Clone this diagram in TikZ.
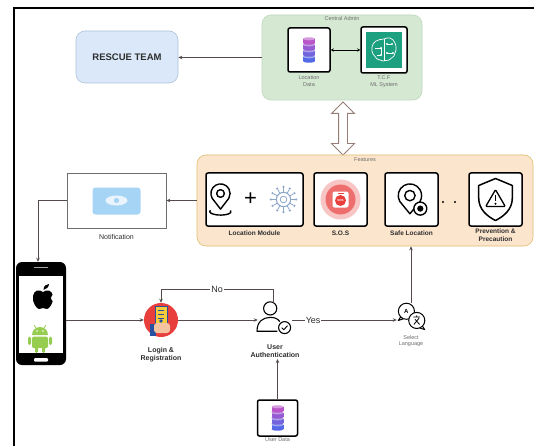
\documentclass[tikz,border=0pt]{standalone}
\usepackage{fontspec}
\setmainfont{Liberation Sans}
\usetikzlibrary{shapes.geometric, shapes.arrows, arrows.meta, positioning, calc}
\definecolor{cText}{RGB}{45,45,45}
\definecolor{cGrey}{RGB}{110,110,110}
\definecolor{cLine}{RGB}{85,75,75}
\definecolor{cRescueFill}{RGB}{218,232,250}
\definecolor{cRescueDraw}{RGB}{175,195,215}
\definecolor{cAdminFill}{RGB}{212,232,210}
\definecolor{cAdminDraw}{RGB}{190,215,188}
\definecolor{cFeatFill}{RGB}{252,229,205}
\definecolor{cFeatDraw}{RGB}{222,190,110}
\definecolor{cTeal}{RGB}{28,160,128}
\definecolor{cSos}{RGB}{232,62,60}
\definecolor{cDbA}{RGB}{185,85,200}
\definecolor{cDbB}{RGB}{150,90,210}
\definecolor{cDbC}{RGB}{115,100,222}
\definecolor{cDbD}{RGB}{85,105,230}
\definecolor{cGear}{RGB}{140,165,200}
\definecolor{cNote}{RGB}{165,212,245}
\definecolor{cDroid}{RGB}{150,205,80}
\definecolor{cDoc}{RGB}{245,205,60}
\definecolor{cDocLine}{RGB}{40,80,160}
\definecolor{cSkin}{RGB}{245,195,160}
\definecolor{cArrow}{RGB}{150,125,120}
\tikzset{
	grp/.style      ={rectangle, rounded corners=9pt, line width=0.6pt, inner sep=0pt},
	iconbox/.style  ={rectangle, rounded corners=2pt, draw=black, line width=1.5pt, fill=white, inner sep=0pt},
	hub/.style      ={rectangle, inner sep=0pt, minimum size=30pt},
	lbl/.style      ={font=\fontsize{6.5}{7.5}\selectfont\bfseries, align=center, text=cText, inner sep=1pt},
	tiny/.style     ={font=\fontsize{5.5}{6.5}\selectfont, align=center, text=cGrey, inner sep=1pt},
	conn/.style     ={-{Stealth[length=4pt, width=3.5pt]}, draw=cLine, line width=0.8pt},
	dconn/.style    ={{Stealth[length=3pt, width=3pt]}-{Stealth[length=3pt, width=3pt]}, draw=black, line width=0.7pt},
	answer/.style   ={font=\fontsize{9}{10}\selectfont, text=cText, fill=white, inner sep=1pt},
	% icons, drawn with y pointing up
	dbstack/.pic={
		\begin{scope}[y=1pt]
			\foreach \c/\k in {cDbD/-9, cDbC/-3, cDbB/3, cDbA/9}{
				\fill[\c] (-6,\k-2.2) rectangle (6,\k+2.2);
				\fill[\c] (0,\k-2.2) ellipse[x radius=6, y radius=1.5];
				\fill[\c!60!white] (0,\k+2.2) ellipse[x radius=6, y radius=1.5];
			}
		\end{scope}
	},
	brainchip/.pic={
		\begin{scope}[y=1pt]
			\fill[cTeal] (-18,-18) rectangle (18,18);
			\draw[white, line width=0.7pt] plot[smooth cycle, tension=0.8] coordinates {(0,11) (6,12) (11,7) (12,0) (10,-6) (5,-10) (-1,-11) (-7,-9) (-11,-4) (-12,3) (-8,9)};
			\draw[white, line width=0.6pt] (0,11) -- (0,-11) (-9,2) -- (-3,2) -- (-3,-5) (3,6) -- (8,6) (3,-3) -- (9,-3) (-7,-5) -- (-3,-5);
			\foreach \p in {(-3,2),(3,6),(3,-3),(-3,-5),(8,6),(9,-3)} \fill[white] \p circle (1.1);
		\end{scope}
	},
	pinicon/.pic={
		\begin{scope}[y=1pt, line width=1.4pt, line join=round]
			\draw (0,-8) -- (-6.93,1) arc[start angle=210, end angle=-30, radius=8] -- cycle;
			\draw (0,5) circle (3.2);
			\draw ([shift={(160:9 and 3)}]0,-10) arc[start angle=160, end angle=380, x radius=9, y radius=3];
		\end{scope}
	},
	gearicon/.pic={
		\begin{scope}[y=1pt]
			\draw[cGear, line width=1pt] (0,0) circle (6.5);
			\draw[cGear, line width=0.8pt] (0,0) circle (3);
			\foreach \a in {0,30,...,330}{
				\draw[cGear, line width=0.8pt] (\a:6.5) -- (\a:10.5);
				\fill[cGear] (\a:11.5) circle (1.1);
			}
		\end{scope}
	},
	sosicon/.pic={
		\begin{scope}[y=1pt]
			\fill[cSos!30] (0,0) circle (20);
			\fill[cSos!75] (0,0) circle (15);
			\fill[white, rounded corners=2pt] (-8,-8) rectangle (8,8);
			\fill[cSos] (0,-1) circle (5.5);
			\fill[cSos] (-3,5.5) rectangle (3,6.5);
			\node[font=\fontsize{3}{3}\selectfont\bfseries, text=white, inner sep=0pt] at (0,-1) {SOS};
		\end{scope}
	},
	safepin/.pic={
		\begin{scope}[y=1pt, line width=1.4pt, line join=round]
			\draw (-2,-11) -- (-9.79,-1.5) arc[start angle=210, end angle=-30, radius=9] -- cycle;
			\draw (-2,3) circle (4);
			\filldraw[fill=white] (6,-7) circle (5);
			\fill (6,-7) circle (2.4);
		\end{scope}
	},
	shieldicon/.pic={
		\begin{scope}[y=1pt, line join=round]
			\draw[line width=1.5pt] (0,15) -- (12,10) -- (12,1) .. controls (12,-7) and (6,-12) .. (0,-15) .. controls (-6,-12) and (-12,-7) .. (-12,1) -- (-12,10) -- cycle;
			\draw[line width=1.3pt, rounded corners=1pt] (0,7) -- (7,-5) -- (-7,-5) -- cycle;
			\draw[line width=1.2pt] (0,3) -- (0,-1);
			\fill (0,-3) circle (0.8);
		\end{scope}
	},
	usericon/.pic={
		\begin{scope}[y=1pt, line width=1.1pt, line join=round]
			\draw (-4,8) circle (5.5);
			\draw (4,-3) .. controls (2,-0.5) and (0,0.5) .. (-4,0.5) .. controls (-10,0.5) and (-15,-3) .. (-15,-11) -- (2,-11);
			\filldraw[fill=white] (8,-8) circle (5);
			\draw[line width=0.9pt] (5.6,-8) -- (7.3,-9.8) -- (10.4,-6.4);
		\end{scope}
	},
	langicon/.pic={
		\begin{scope}[y=1pt, line width=1pt, line join=round]
			\draw (-4,5) circle (7) (-9,0) -- (-11,-3) -- (-6.5,-1.5);
			\node[font=\fontsize{6}{6}\selectfont\bfseries, inner sep=0pt] at (-4,5) {A};
			\filldraw[fill=white] (5,-3) circle (7);
			\draw (10,-8) -- (12,-11) -- (7.5,-9.5);
			\draw[line width=0.8pt] (2,0) -- (8,0) (5,1.5) -- (5,0) (2.5,-6.5) -- (7,-1) (7.5,-6.5) -- (3.5,-2);
		\end{scope}
	},
	loginicon/.pic={
		\begin{scope}[y=1pt]
			\fill[cSos] (0,0) circle (17);
			\filldraw[fill=cDoc, draw=cDocLine, line width=0.8pt] (-6,-6) rectangle (6,14);
			\draw[cDocLine, line width=0.6pt] (-3,10) -- (3,10) (-3,6) -- (3,6) (-3,2) -- (3,2);
			\fill[cDocLine] (0,-1) circle (1.8);
			\fill[cDocLine] (-11,-16) rectangle (-5,-4);
			\fill[cSkin, rounded corners=3pt] (-7,-13) rectangle (9,-3);
		\end{scope}
	},
	applelogo/.pic={
		\begin{scope}[y=1pt]
			\fill (0,5) .. controls (4,8) and (9,7) .. (10,1) .. controls (11,-6) and (6,-12) .. (4,-12) .. controls (2,-12) and (1,-11) .. (0,-11) .. controls (-1,-11) and (-2,-12) .. (-4,-12) .. controls (-6,-12) and (-11,-6) .. (-10,1) .. controls (-9,7) and (-4,8) .. (0,5) -- cycle;
			\fill[white] (11.5,-1) circle (3.5);
			\fill (0.5,7) .. controls (0.5,11) and (3,13) .. (6,13) .. controls (6,10) and (3,7.5) .. (0.5,7) -- cycle;
		\end{scope}
	},
	droidlogo/.pic={
		\begin{scope}[y=1pt]
			\fill[cDroid] (-8,3) arc[start angle=180, end angle=0, radius=8] -- cycle;
			\fill[white] (-3,7) circle (0.9) (3,7) circle (0.9);
			\draw[cDroid, line width=0.8pt] (-4,10) -- (-6,13) (4,10) -- (6,13);
			\fill[cDroid, rounded corners=1.5pt] (-8,1.5) rectangle (8,-10);
			\fill[cDroid, rounded corners=1.5pt] (-12,1.5) rectangle (-9,-7) (9,1.5) rectangle (12,-7);
			\fill[cDroid, rounded corners=1.5pt] (-5,-8) rectangle (-2,-15) (2,-8) rectangle (5,-15);
		\end{scope}
	},
}
\begin{document}
\begin{tikzpicture}[x=1pt, y=-1pt]
	\useasboundingbox (0,0) rectangle (534,446);
	\fill[white] (0,0) rectangle (534,446);
	\draw[line width=2pt] (14,446) -- (14,8) -- (534,8);

	% top row: rescue team and central admin
	\node[grp, draw=cRescueDraw, fill=cRescueFill, minimum width=102pt, minimum height=52pt, font=\fontsize{9.5}{10}\selectfont\bfseries, text=cText] (rescue) at (127,57) {RESCUE TEAM};
	\node[grp, draw=cAdminDraw, fill=cAdminFill, minimum width=160pt, minimum height=85pt] (admin) at (342,57.5) {};
	\node[tiny, below=1pt of admin.north] (admintitle) {Central Admin};
	\node[iconbox, minimum width=42pt, minimum height=44pt] (locdata) at (309,50) {};
	\node[iconbox, minimum width=46pt, minimum height=46pt] (tcf) at (384,50) {};
	\pic at (locdata) {dbstack};
	\pic at (tcf) {brainchip};
	\node[tiny, below=2pt of locdata] (locdatalbl) {Location\\Data};
	\node[tiny, below=1pt of tcf] (tcflbl) {T.C.F\\ML System};
	\draw[dconn] (locdata) -- (tcf);
	\draw[conn] (admin.west) -- (admin.west -| rescue.east);

	% link between admin and features
	\node[double arrow, draw=cArrow, fill=white, line width=0.8pt, rotate=90, minimum height=53pt, inner sep=4pt, double arrow head extend=7pt] (link) at (343,128.5) {};

	% features panel
	\node[grp, draw=cFeatDraw, fill=cFeatFill, minimum width=336pt, minimum height=91pt] (feat) at (365,200.5) {};
	\node[tiny, below=2pt of feat.north] (feattitle) {Features};
	\node[iconbox, minimum width=97pt, minimum height=53pt] (locmod) at (254.5,199.5) {};
	\node[iconbox, minimum width=53pt, minimum height=53pt] (sos) at (340.5,199.5) {};
	\node[iconbox, minimum width=53pt, minimum height=53pt] (safe) at (411.5,199.5) {};
	\node[iconbox, minimum width=53pt, minimum height=53pt] (prev) at (495.5,199.5) {};
	\pic[scale=1.2] at ([xshift=-34pt]locmod.center) {pinicon};
	\node[font=\fontsize{22}{22}\selectfont, inner sep=0pt] (plus) at ([xshift=-4pt]locmod.center) {+};
	\pic[scale=1.1] at ([xshift=29pt]locmod.center) {gearicon};
	\pic at (sos) {sosicon};
	\pic[scale=1.3] at ([xshift=1pt]safe.center) {safepin};
	\pic[scale=1.4] at (prev) {shieldicon};
	\foreach \dx in {443,455} \fill (\dx,202) circle (1.2);
	\node[lbl, below=3pt of locmod] (locmodlbl) {Location Module};
	\node[lbl, below=3pt of sos] (soslbl) {S.O.S};
	\node[lbl, below=3pt of safe] (safelbl) {Safe Location};
	\node[lbl, below=0.5pt of prev, font=\fontsize{6.5}{8}\selectfont\bfseries] (prevlbl) {Prevention \&\\Precaution};

	% notification
	\node[rectangle, draw=cGrey, line width=0.7pt, fill=white, minimum width=99pt, minimum height=55pt] (notif) at (116.5,200.5) {};
	\fill[cNote, rounded corners=3pt] ($(notif.center)+(-24,-13)$) rectangle ($(notif.center)+(24,14)$);
	\fill[white!75!cNote] (notif.center) ellipse[x radius=11, y radius=5];
	\fill[cNote] (notif.center) circle (2.6);
	\node[font=\fontsize{7}{8}\selectfont, text=cText, below=3pt of notif] (notiflbl) {Notification};
	\draw[conn] (feat.west |- notif.east) -- (notif.east);

	% phone
	\node[rectangle, rounded corners=6pt, fill=black, minimum width=50pt, minimum height=103pt] (phone) at (41,313.5) {};
	\fill[white] ($(phone.north west)+(3,14)$) rectangle ($(phone.south east)+(-3,-12)$);
	\fill[gray!70] ($(phone.north)+(-7,5)$) rectangle ($(phone.north)+(7,6.5)$);
	\fill[white, rounded corners=1pt] ($(phone.south)+(-7,-7)$) rectangle ($(phone.south)+(7,-3.5)$);
	\pic at (43,297) {applelogo};
	\pic at (40,338) {droidlogo};
	\draw[conn] (notif.west) -| ([xshift=-3pt]phone.north);

	% sign in flow
	\node[circle, minimum size=34pt, inner sep=0pt] (login) at (161,320) {};
	\pic at (login) {loginicon};
	\node[lbl, font=\fontsize{7}{8.5}\selectfont\bfseries, below=9pt of login] (loginlbl) {Login \&\\Registration};
	\node[hub, minimum width=34pt] (auth) at (275,318) {};
	\pic[scale=1.2] at (auth) {usericon};
	\node[lbl, font=\fontsize{7}{8.5}\selectfont\bfseries, below=10pt of auth] (authlbl) {User\\Authentication};
	\node[hub, minimum size=28pt] (lang) at (411,317) {};
	\pic[scale=1.15] at (lang) {langicon};
	\node[tiny, below=3pt of lang] (langlbl) {Select\\Language};
	\node[iconbox, minimum width=40pt, minimum height=36pt] (userdata) at (277.5,418) {};
	\pic at (userdata) {dbstack};
	\node[tiny, below=0pt of userdata] (userdatalbl) {User Data};

	\draw[conn] (phone.east |- login) -- (login.west);
	\draw[conn] (login.east) -- (login.east -| auth.west);
	\draw[conn] ([xshift=-2pt]auth.north) -- ++(0,-13) -| (login.north) node[answer, pos=0.25] {No};
	\draw[conn] (auth.east |- login) -- (lang.west |- login) node[answer, pos=0.2] {Yes};
	\draw[conn] (lang.north) -- (lang.north |- feat.south);
	\draw[conn] (userdata.north) -- (userdata.north |- authlbl.south);
\end{tikzpicture}
\end{document}
